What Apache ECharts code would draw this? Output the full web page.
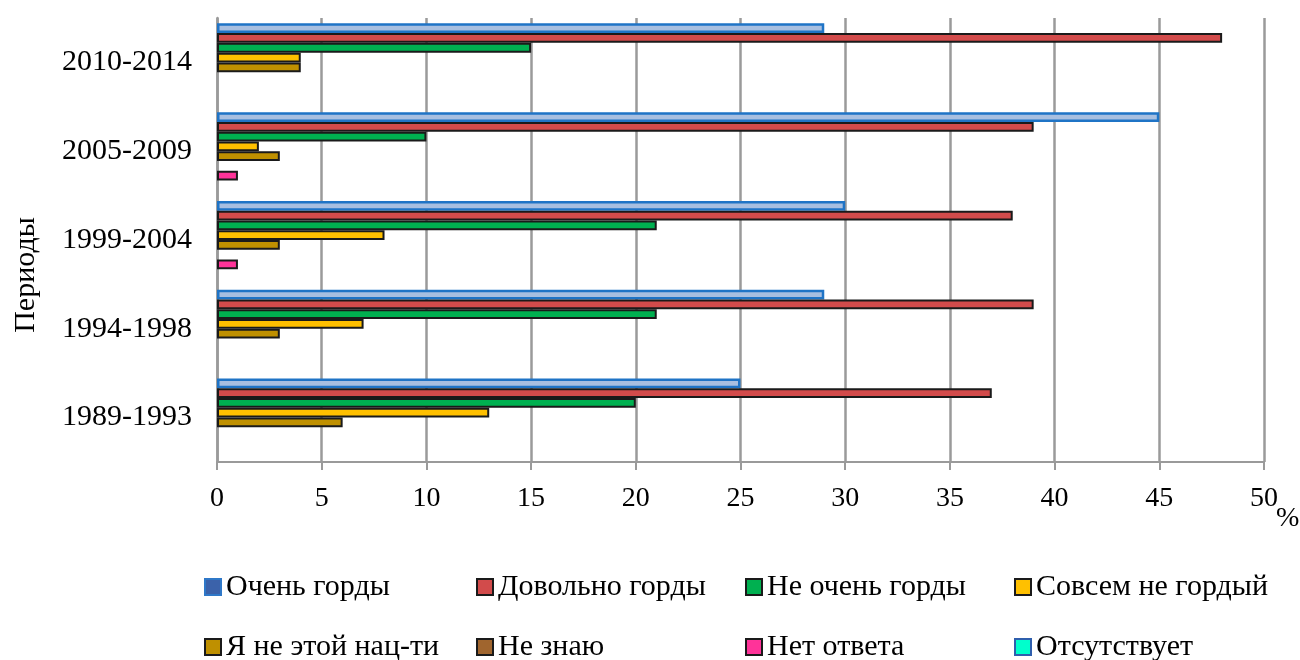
<!DOCTYPE html>
<html><head><meta charset="utf-8">
<script src="https://cdn.jsdelivr.net/npm/echarts@6/dist/echarts.min.js"></script>
<style>html,body{margin:0;padding:0;background:#fff}#c{width:1300px;height:660px}</style>
</head><body><div id="c"></div>
<script>
const categories = ['1989-1993', '1994-1998', '1999-2004', '2005-2009', '2010-2014'];
const seriesNames = ['Очень горды', 'Довольно горды', 'Не очень горды', 'Совсем не гордый',
  'Я не этой нац-ти', 'Не знаю', 'Нет ответа', 'Отсутствует'];
const veryProud = [25, 29, 30, 45, 29];
const quiteProud = [37, 39, 38, 39, 48];
const notVeryProud = [20, 21, 21, 10, 15];
const notAtAllProud = [13, 7, 8, 2, 4];
const notThisNationality = [6, 3, 3, 3, 4];
const dontKnow = [null, null, null, null, null];
const noAnswer = [null, null, 1, 1, null];
const missing = [null, null, null, null, null];
const xTickMin = 0, xTickMax = 50, xTickStep = 5;

const seriesData = [veryProud, quiteProud, notVeryProud, notAtAllProud, notThisNationality, dontKnow, noAnswer, missing];
const fills = ['#a8bfe0', '#d24b4b', '#00b050', '#ffc000', '#bf9000', '#a0652e', '#ff3399', '#00ffcc'];
const borders = ['#1f74c6', '#1a1a1a', '#1a1a1a', '#1a1a1a', '#1a1a1a', '#1a1a1a', '#1a1a1a', '#2f5fad'];
const legendFills = ['#3b62aa', '#d24b4b', '#00b050', '#ffc000', '#bf9000', '#a0652e', '#ff3399', '#00ffcc'];
const legendBorders = ['#2f78c8', '#1a1a1a', '#1a1a1a', '#1a1a1a', '#1a1a1a', '#1a1a1a', '#1a1a1a', '#2f5fad'];
const legendLeft = [204, 476, 745, 1014];
const legendTop = [572, 632];

const FONT = '"Liberation Serif", "Times New Roman", serif';
const chart = echarts.init(document.getElementById('c'), null, {renderer: 'canvas'});

const legends = seriesNames.map((n, i) => ({
  left: legendLeft[i % 4], top: legendTop[Math.floor(i / 4)], padding: 0,
  orient: 'horizontal', itemWidth: 16, itemHeight: 16, itemGap: 0,
  icon: 'rect', selectedMode: false,
  textStyle: {fontFamily: FONT, fontSize: 30, color: '#000', padding: [0, 0, 0, 0]},
  data: [{name: n, itemStyle: {color: legendFills[i], borderColor: legendBorders[i], borderWidth: 2}}]
}));

const series = seriesNames.map((n, i) => ({
  name: n, type: 'bar', data: seriesData[i],
  barGap: '0%', barCategoryGap: '12%',
  itemStyle: {color: fills[i], borderColor: borders[i], borderWidth: i === 0 ? 2.5 : 2},
  emphasis: {disabled: true}, animation: false
}));

chart.setOption({
  animation: false,
  backgroundColor: '#fff',
  title: {text: '%', left: 1271, top: 500, padding: 5, textStyle: {fontFamily: FONT, fontSize: 28, fontWeight: 'normal', color: '#000'}},
  grid: {left: 217, right: 36, top: 18, bottom: 198, containLabel: false},
  legend: legends,
  xAxis: {
    type: 'value', min: xTickMin, max: xTickMax, interval: xTickStep,
    axisLine: {show: true, lineStyle: {color: '#9a9a9a', width: 2}},
    axisTick: {show: true, length: 8, lineStyle: {color: '#9a9a9a', width: 2}},
    splitLine: {show: true, lineStyle: {color: '#9a9a9a', width: 2.5}},
    axisLabel: {fontFamily: FONT, fontSize: 28, color: '#000', margin: 23}
  },
  yAxis: {
    type: 'category', data: categories,
    axisLine: {show: true, lineStyle: {color: '#9a9a9a', width: 2.5}},
    axisTick: {show: false},
    axisLabel: {fontFamily: FONT, fontSize: 30, color: '#000', margin: 25}
  },
  graphic: [{type: 'text', x: 26, y: 275, rotation: Math.PI / 2,
    style: {text: 'Периоды', fontFamily: FONT, fontSize: 30, fill: '#000', align: 'center', verticalAlign: 'middle'}}],
  series: series
});
</script></body></html>
